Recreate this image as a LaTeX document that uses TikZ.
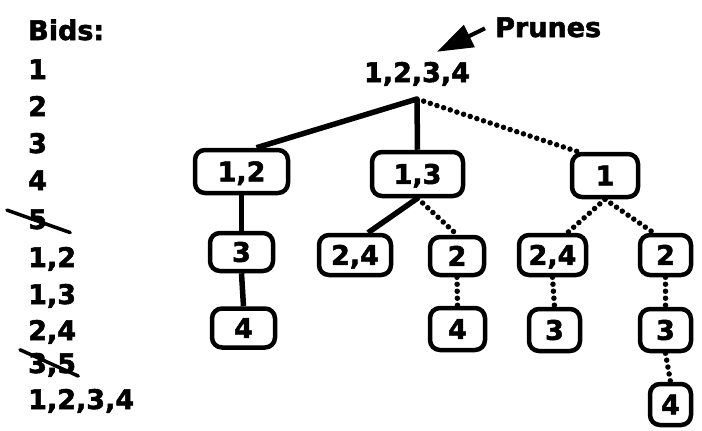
\documentclass[tikz,border=0pt]{standalone}
\usepackage{fontspec}
\setmainfont{DejaVu Sans}[BoldFeatures={FakeBold=2}]
\usetikzlibrary{arrows.meta,calc}
\begin{document}
\begin{tikzpicture}[x=1pt,y=-1pt,
  every node/.style={font=\fontsize{27}{32}\selectfont\bfseries, inner sep=0pt},
  listitem/.style={anchor=base west},
  bidbox/.style={draw, line width=4.5pt, rounded corners=10pt, text height=19.7pt, text depth=0pt},
  solidline/.style={line width=5.5pt},
  dotline/.style={line width=5.5pt, dash pattern=on 0pt off 7pt, line cap=round},
  strike/.style={line width=3.5pt, line cap=round},
  pointer/.style={line width=4pt, -{Triangle[length=36pt,width=24pt]}}
]
\useasboundingbox (0,0) rectangle (702,431);

% list of bids
\node[listitem] (bids) at (28,40) {Bids:};
\node[listitem] (b1) at (28,79) {1};
\node[listitem] (b2) at (28,116) {2};
\node[listitem] (b3) at (28,153) {3};
\node[listitem] (b4) at (28,190) {4};
\node[listitem] (b5) at (28,229) {5};
\node[listitem] (b12) at (28,267) {1,2};
\node[listitem] (b13) at (28,304) {1,3};
\node[listitem] (b24) at (28,340) {2,4};
\node[listitem] (b35) at (28,373) {3,5};
\node[listitem] (b1234) at (28,409) {1,2,3,4};
\draw[strike] ($(b5.north west)+(-21,1)$) -- ($(b5.south east)+(23,3)$);
\draw[strike] ($(b35.north west)+(-8,-3)$) -- ($(b35.south east)+(2,-1)$);

% root and label
\node[anchor=base] (root) at (417,82) {1,2,3,4};
\node[anchor=base west] (pr) at (495,37) {Prunes};
\draw[pointer] ($(pr.west)+(-10,1)$) -- ($(root.north)+(20,-10)$);

% tree nodes
\node[bidbox, minimum width=93pt, minimum height=43pt] (n12) at (241.5,171.5) {1,2};
\node[bidbox, minimum width=91pt, minimum height=44pt] (n13) at (417.5,174) {1,3};
\node[bidbox, minimum width=66pt, minimum height=43pt] (n1) at (605,175.5) {1};

\node[bidbox, minimum width=63pt, minimum height=38pt] (n3a) at (241.5,252) {3};
\node[bidbox, minimum width=72pt, minimum height=40pt] (n24a) at (355,255) {2,4};
\node[bidbox, minimum width=54pt, minimum height=38pt] (n2a) at (457,256) {2};
\node[bidbox, minimum width=67pt, minimum height=40pt] (n24b) at (552.5,255) {2,4};
\node[bidbox, minimum width=51pt, minimum height=40pt] (n2b) at (665.5,255) {2};

\node[bidbox, minimum width=63pt, minimum height=39pt] (n4a) at (243.5,328) {4};
\node[bidbox, minimum width=55pt, minimum height=42pt] (n4b) at (457.5,329) {4};
\node[bidbox, minimum width=51pt, minimum height=42pt] (n3b) at (554.5,330) {3};
\node[bidbox, minimum width=51pt, minimum height=42pt] (n3c) at (665.5,330) {3};

\node[bidbox, minimum width=41pt, minimum height=41pt] (n4c) at (670.5,404.5) {4};

% connectors
\coordinate (J) at ($(root.base)+(0,17)$);
\draw[solidline] (J) -- ($(n12.north)+(15,0)$);
\draw[solidline] (J) -- (n13.north);
\draw[dotline] (J) -- ($(n1.north)+(-27,0)$);

\draw[solidline] (n12.south) -- (n3a.north);
\draw[solidline] (n3a.south) -- (n4a.north);

\draw[solidline] (n13.south) -- ($(n24a.north)+(13,0)$);
\draw[dotline] (n13.south) -- (n2a.north);
\draw[dotline] (n2a.south) -- (n4b.north);

\draw[dotline] (n1.south) -- ($(n24b.north)+(15,0)$);
\draw[dotline] (n1.south) -- ($(n2b.north)+(-12,0)$);
\draw[dotline] (n24b.south) -- (n3b.north);
\draw[dotline] (n2b.south) -- (n3c.north);
\draw[dotline] (n3c.south) -- (n4c.north);
\end{tikzpicture}
\end{document}
